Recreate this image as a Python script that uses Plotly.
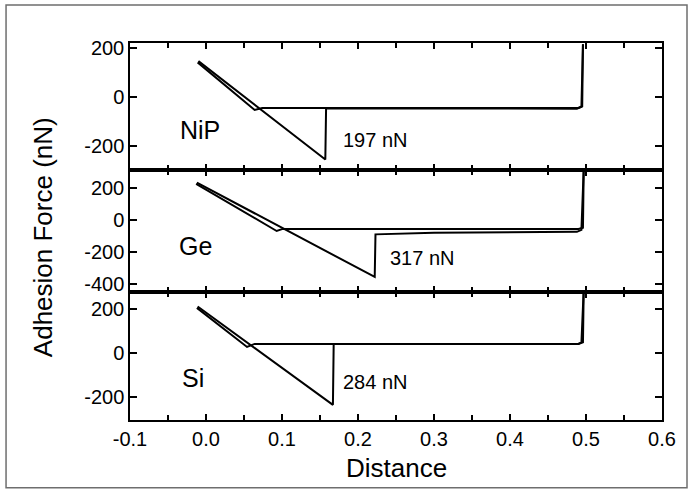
import plotly.graph_objects as go
from plotly.subplots import make_subplots

# ---- data ----
materials = ["NiP", "Ge", "Si"]
adhesion_labels = ["197 nN", "317 nN", "284 nN"]

nip_approach_x = [0.496, 0.495, 0.490, 0.074, 0.064, -0.011]
nip_approach_y = [215, -38, -45, -45, -53, 141]
nip_retract_x = [-0.010, 0.157, 0.158, 0.300, 0.488, 0.494, 0.496]
nip_retract_y = [146, -255, -46, -47, -48, -40, 215]

ge_approach_x = [0.497, 0.496, 0.490, 0.101, 0.093, -0.013]
ge_approach_y = [320, -48, -56, -56, -69, 226]
ge_retract_x = [-0.012, 0.222, 0.223, 0.300, 0.488, 0.494, 0.497]
ge_retract_y = [233, -356, -90, -80, -74, -62, 320]

si_approach_x = [0.497, 0.496, 0.490, 0.064, 0.054, -0.012]
si_approach_y = [290, 48, 41, 41, 27, 205]
si_retract_x = [-0.011, 0.167, 0.168, 0.300, 0.490, 0.494, 0.497]
si_retract_y = [211, -236, 41, 41, 41, 48, 290]

x_ticks = [-0.1, 0.0, 0.1, 0.2, 0.3, 0.4, 0.5, 0.6]
x_tick_labels = ["-0.1", "0.0", "0.1", "0.2", "0.3", "0.4", "0.5", "0.6"]
y_ticks_nip = [-200, 0, 200]
y_ticks_ge = [-400, -200, 0, 200]
y_ticks_si = [-200, 0, 200]

y_ranges = [[-298, 220], [-450, 312], [-305, 277]]
mat_label_pos = [(-0.008, -135), (-0.014, -160), (-0.017, -115)]
force_label_pos = [(0.177, -175), (0.240, -237), (0.178, -132)]

# ---- figure ----
fig = make_subplots(rows=3, cols=1, shared_xaxes=True, vertical_spacing=0,
                    row_heights=[127, 122, 128])

curves = [
    (nip_approach_x, nip_approach_y, nip_retract_x, nip_retract_y),
    (ge_approach_x, ge_approach_y, ge_retract_x, ge_retract_y),
    (si_approach_x, si_approach_y, si_retract_x, si_retract_y),
]
for i, (ax_, ay_, rx_, ry_) in enumerate(curves):
    for xs, ys in ((ax_, ay_), (rx_, ry_)):
        fig.add_trace(go.Scatter(x=xs, y=ys, mode="lines",
                                 line=dict(color="black", width=2),
                                 showlegend=False, hoverinfo="skip"),
                      row=i + 1, col=1)

font_name = "Liberation Sans, Arial, sans-serif"
ytick_sets = [y_ticks_nip, y_ticks_ge, y_ticks_si]
for i in range(3):
    fig.update_yaxes(row=i + 1, col=1, range=y_ranges[i], tickvals=ytick_sets[i],
                     ticktext=[str(v) for v in ytick_sets[i]],
                     ticks="inside", ticklen=7, tickwidth=1.5, tickcolor="black",
                     showline=True, linecolor="black", linewidth=1.5, mirror="ticks",
                     showgrid=False, zeroline=False,
                     tickfont=dict(family=font_name, size=20, color="black"))
    fig.update_xaxes(row=i + 1, col=1, range=[-0.1, 0.6], tickvals=x_ticks,
                     ticktext=x_tick_labels,
                     ticks="inside", ticklen=6, tickwidth=1.5, tickcolor="black",
                     minor=dict(tickvals=[-0.05, 0.05, 0.15, 0.25, 0.35, 0.45, 0.55],
                                ticks="inside", ticklen=5, tickwidth=1.5, tickcolor="black"),
                     showline=True, linecolor="black", linewidth=1.5, mirror="ticks",
                     showgrid=False, zeroline=False,
                     tickfont=dict(family=font_name, size=20, color="black"))

for i in range(3):
    xref = "x" if i == 0 else f"x{i+1}"
    yref = "y" if i == 0 else f"y{i+1}"
    mx, my = mat_label_pos[i]
    fig.add_annotation(x=mx, y=my, xref=xref, yref=yref, text=materials[i],
                       showarrow=False, xanchor="center", yanchor="middle",
                       font=dict(family=font_name, size=25, color="black"))
    fx, fy = force_label_pos[i]
    fig.add_annotation(x=fx, y=fy, xref=xref, yref=yref, text=adhesion_labels[i],
                       showarrow=False, xanchor="left", yanchor="middle",
                       font=dict(family=font_name, size=20, color="black"))

fig.add_annotation(x=0.5, y=-0.127, xref="paper", yref="paper", text="Distance",
                   showarrow=False, xanchor="center", yanchor="middle",
                   font=dict(family=font_name, size=26, color="black"))
fig.add_annotation(x=-0.1635, y=0.485, xref="paper", yref="paper",
                   text="Adhesion Force (nN)", textangle=-90,
                   showarrow=False, xanchor="center", yanchor="middle",
                   font=dict(family=font_name, size=26, color="black"))

fig.add_shape(type="rect", xref="paper", yref="paper",
              x0=-0.233, x1=1.047, y0=-0.180, y1=1.101,
              line=dict(color="#6e6e6e", width=1.5))

fig.update_layout(width=689, height=491,
                  margin=dict(l=130, r=27, t=43, b=71),
                  paper_bgcolor="white", plot_bgcolor="white")

fig.write_html("out.html",
               config={"displayModeBar": False},
               post_script="document.body.style.margin='0px';document.body.style.overflow='hidden';")
